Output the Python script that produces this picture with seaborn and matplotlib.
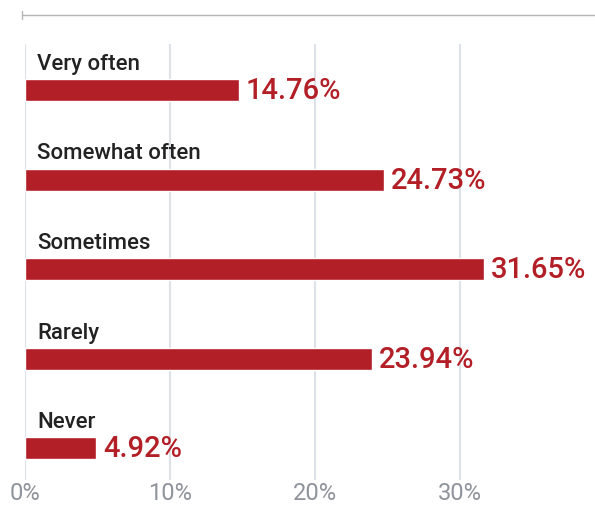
import matplotlib
matplotlib.use("Agg")
import matplotlib.pyplot as plt
from matplotlib.lines import Line2D
import pandas as pd
import seaborn as sns

categories = ["Very often", "Somewhat often", "Sometimes", "Rarely", "Never"]
shares = [14.76, 24.73, 31.65, 23.94, 4.92]
tick_values = [0, 10, 20, 30]
tick_labels = ["0%", "10%", "20%", "30%"]

df = pd.DataFrame({"answer": categories, "share": shares})

sns.set_theme(style="white")
plt.rcParams["font.family"] = ["Roboto", "DejaVu Sans"]

bar_red = "#b31f26"

fig = plt.figure(figsize=(5.95, 5.06), dpi=100)
ax = fig.add_axes([25 / 595, 25 / 506, 570 / 595, 436 / 506])

sns.barplot(data=df, x="share", y="answer", orient="h", color=bar_red,
            width=0.246, saturation=1, ax=ax)

ax.set_xlim(0, 570 / 14.5)
ax.set_ylim(4.357, -0.514)

for i, (cat, val) in enumerate(zip(categories, shares)):
    ax.text(0.83, i - 0.235, cat, fontsize=16, fontweight="medium",
            color="#222222", va="baseline", ha="left")
    ax.annotate(f"{val:.2f}%", xy=(val, i), xytext=(5, 0),
                textcoords="offset points", va="center", ha="left",
                fontsize=21, fontweight="medium", color=bar_red)

ax.set_xticks(tick_values)
ax.set_xticklabels(tick_labels, fontsize=17, color="#8f939b")
ax.tick_params(axis="x", length=0, pad=1)
ax.set_yticks([])
ax.set_xlabel("")
ax.set_ylabel("")
ax.xaxis.grid(True, color="#dde1e8", linewidth=1.5)
ax.set_axisbelow(True)
sns.despine(ax=ax, left=True, bottom=True, top=True, right=True)

# rule under the (cropped) title
fig.add_artist(Line2D([22 / 595, 1.0], [1 - 16 / 506, 1 - 16 / 506],
                      color="#b5b5b5", linewidth=1.0))
fig.add_artist(Line2D([22 / 595, 22 / 595], [1 - 12 / 506, 1 - 20 / 506],
                      color="#b5b5b5", linewidth=1.0))

fig.savefig("out.png", dpi=100)
